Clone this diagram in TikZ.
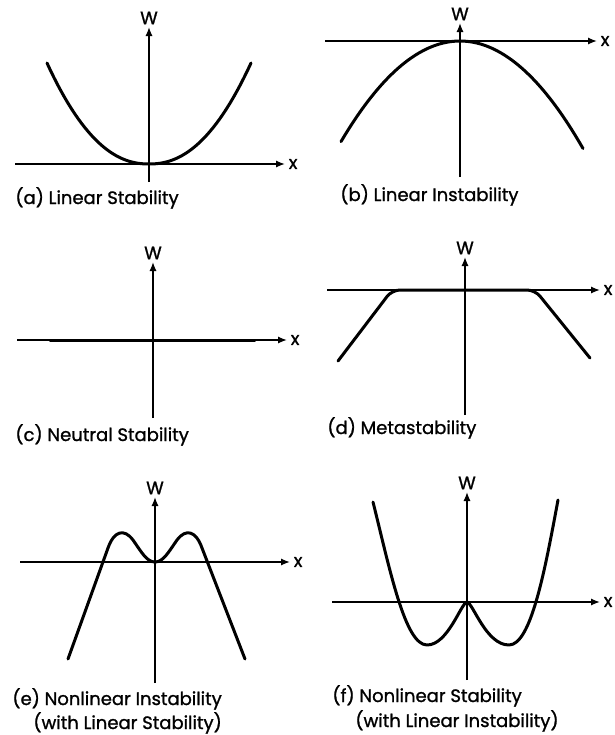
\documentclass[tikz,border=0pt]{standalone}
\usepackage{fontspec}
\setmainfont{Poppins}[FakeBold=1.2]
\usetikzlibrary{arrows.meta}

\begin{document}
\begin{tikzpicture}[x=0.5pt,y=-0.5pt,>={Latex[length=4.5pt,width=3.6pt]},
  every node/.style={font=\fontsize{9}{10}\selectfont},
  axis/.style={line width=0.8pt},
  curve/.style={line width=1.5pt,line cap=round,line join=round},
  caption/.style={anchor=base west,inner sep=0pt}]
  \useasboundingbox (0,0) rectangle (615,735);
  % axes of the six panels
  \foreach \xl/\xr/\ya/\xw/\yt/\yb/\nm in {15/285/164/149/27/182/a, 325/597/41/460/23/177/b,
      17/287/340/153/262/418/c, 327/600/290/465/257/415/d,
      20/290/562/155/497/683/e, 332/600/602/467/492/680/f} {
    \draw[axis,->] (\xl,\ya) -- (\xr,\ya) node[right,inner sep=1.5pt] (x\nm) {x};
    \draw[axis,->] (\xw,\yb) -- (\xw,\yt) node[above,inner sep=1pt] (w\nm) {W};
  }
  % (a) linear stability
  \draw[curve] plot[domain=-102:102,samples=60] ({149+\x},{164-101*(abs(\x)/102)^2.2});
  \node[caption] (capa) at (15,204) {(a) Linear Stability};
  % (b) linear instability
  \draw[curve] plot[domain=-119:123,samples=60] ({460+\x},{41+104*(abs(\x)/121)^2});
  \node[caption] (capb) at (340,201) {(b) Linear Instability};
  % (c) neutral stability
  \draw[curve] (50,340) -- (255,340);
  \node[caption] (capc) at (15,441) {(c) Neutral Stability};
  % (d) metastability
  \draw[curve,rounded corners=4pt] (338,361) -- (392,290) -- (535,290) -- (590,358);
  \node[caption] (capd) at (327,434) {(d) Metastability};
  % (e) nonlinear instability
  \draw[curve] (68,659) -- (108,548) .. controls (114,531) and (124,528) .. (133,540)
    .. controls (142,553) and (147,562) .. (155,562)
    .. controls (163,562) and (168,553) .. (177,540)
    .. controls (186,528) and (196,531) .. (202,548) -- (245,659);
  \node[caption] (cape1) at (12,705) {(e) Nonlinear Instability};
  \node[caption] (cape2) at (33,729) {(with Linear Stability)};
  % (f) nonlinear stability
  \draw[curve] (373,502) .. controls (390,570) and (405,645) .. (427,645)
    .. controls (448,645) and (461,603) .. (467,602)
    .. controls (473,603) and (486,645) .. (509,645)
    .. controls (531,645) and (545,570) .. (558,500);
  \node[caption] (capf1) at (332,702) {(f) Nonlinear Stability};
  \node[caption] (capf2) at (355,727) {(with Linear Instability)};
\end{tikzpicture}
\end{document}
